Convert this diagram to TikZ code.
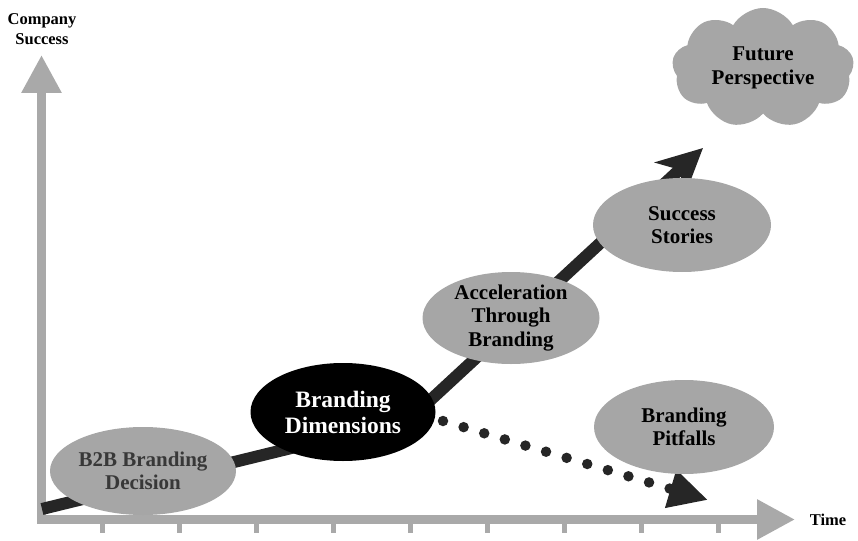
\documentclass[tikz,border=0pt]{standalone}
\usepackage{fontspec}
\setmainfont{Liberation Serif}
\usetikzlibrary{arrows.meta,shapes.geometric,shapes.symbols}
\definecolor{axisgray}{HTML}{A9A9A9}
\definecolor{blobgray}{HTML}{A6A6A6}
\definecolor{trend}{HTML}{262626}
\definecolor{darktext}{HTML}{383838}
\tikzset{
  blob/.style={ellipse, fill=blobgray, draw=none, inner sep=0pt},
  darkblob/.style={ellipse, fill=black, draw=none, inner sep=0pt},
  blobtext/.style={align=center, font=\bfseries\fontsize{21}{23.5}\selectfont, inner sep=0pt},
  axislabel/.style={align=center, font=\bfseries\fontsize{16.5}{20.5}\selectfont, inner sep=0pt},
  axisline/.style={draw=axisgray, line width=9pt, line join=miter},
  tickmark/.style={fill=axisgray, draw=none, minimum width=5pt, minimum height=10pt, inner sep=0pt, anchor=north},
  trendline/.style={draw=trend, line width=12pt, line join=round},
  dotline/.style={draw=trend, line width=10.5pt, line cap=round, dash pattern=on 0pt off 21.5pt},
}
\begin{document}
\begin{tikzpicture}[x=1pt,y=-1pt]
\useasboundingbox (0,0) rectangle (858,540);
% axes
\coordinate (ytip) at (41.5,55);
\coordinate (corner) at (41.5,519.5);
\coordinate (xtip) at (795,519.5);
\draw[axisline, {Triangle[length=38pt,width=38pt]}-{Triangle[length=38pt,width=38pt]}] (ytip) -- (corner) -- (xtip);
\foreach \i in {0,...,8} {
  \node[tickmark] (tick\i) at (102+77.1*\i,523) {};
}
\node[axislabel] (ylabel) at (42,29) {Company\\Success};
\node[axislabel] (xlabel) at (828,520) {Time};
% trend line
\coordinate (tstart) at (42,509);
\coordinate (tbend) at (410,419);
\coordinate (ttip) at (703,148);
\draw[trendline, -{Stealth[length=45pt,width=44pt,inset=13pt]}] (tstart) -- (tbend) -- (ttip);
% dotted branch
\coordinate (dstart) at (443,421);
\coordinate (dtip) at (708,500);
\draw[dotline, -{Triangle[length=39pt,width=37pt]}] (dstart) -- (dtip);
% blobs
\node[blob, minimum width=186pt, minimum height=88pt] (b2b) at (143,471) {};
\node[blobtext, text=darktext] (b2bt) at (b2b) {B2B Branding\\Decision};
\node[darkblob, minimum width=185pt, minimum height=98pt] (dim) at (343,412) {};
\node[blobtext, text=white, font=\bfseries\fontsize{23.5}{26}\selectfont] (dimt) at (dim) {Branding\\Dimensions};
\node[blob, minimum width=177pt, minimum height=92pt] (acc) at (511,318) {};
\node[blobtext] (acct) at (acc) {Acceleration\\Through\\Branding};
\node[blob, minimum width=178pt, minimum height=94pt] (suc) at (682,225) {};
\node[blobtext] (suct) at (suc) {Success\\Stories};
\node[blob, minimum width=180pt, minimum height=94pt] (pit) at (684,427) {};
\node[blobtext] (pitt) at (pit) {Branding\\Pitfalls};
\node[cloud, cloud puffs=9, cloud puff arc=120, aspect=1.5, fill=blobgray, draw=none, minimum width=182pt, minimum height=120pt, inner sep=0pt] (fut) at (763,68) {};
\node[blobtext] (futt) at (fut) {Future\\Perspective};
\end{tikzpicture}
\end{document}
